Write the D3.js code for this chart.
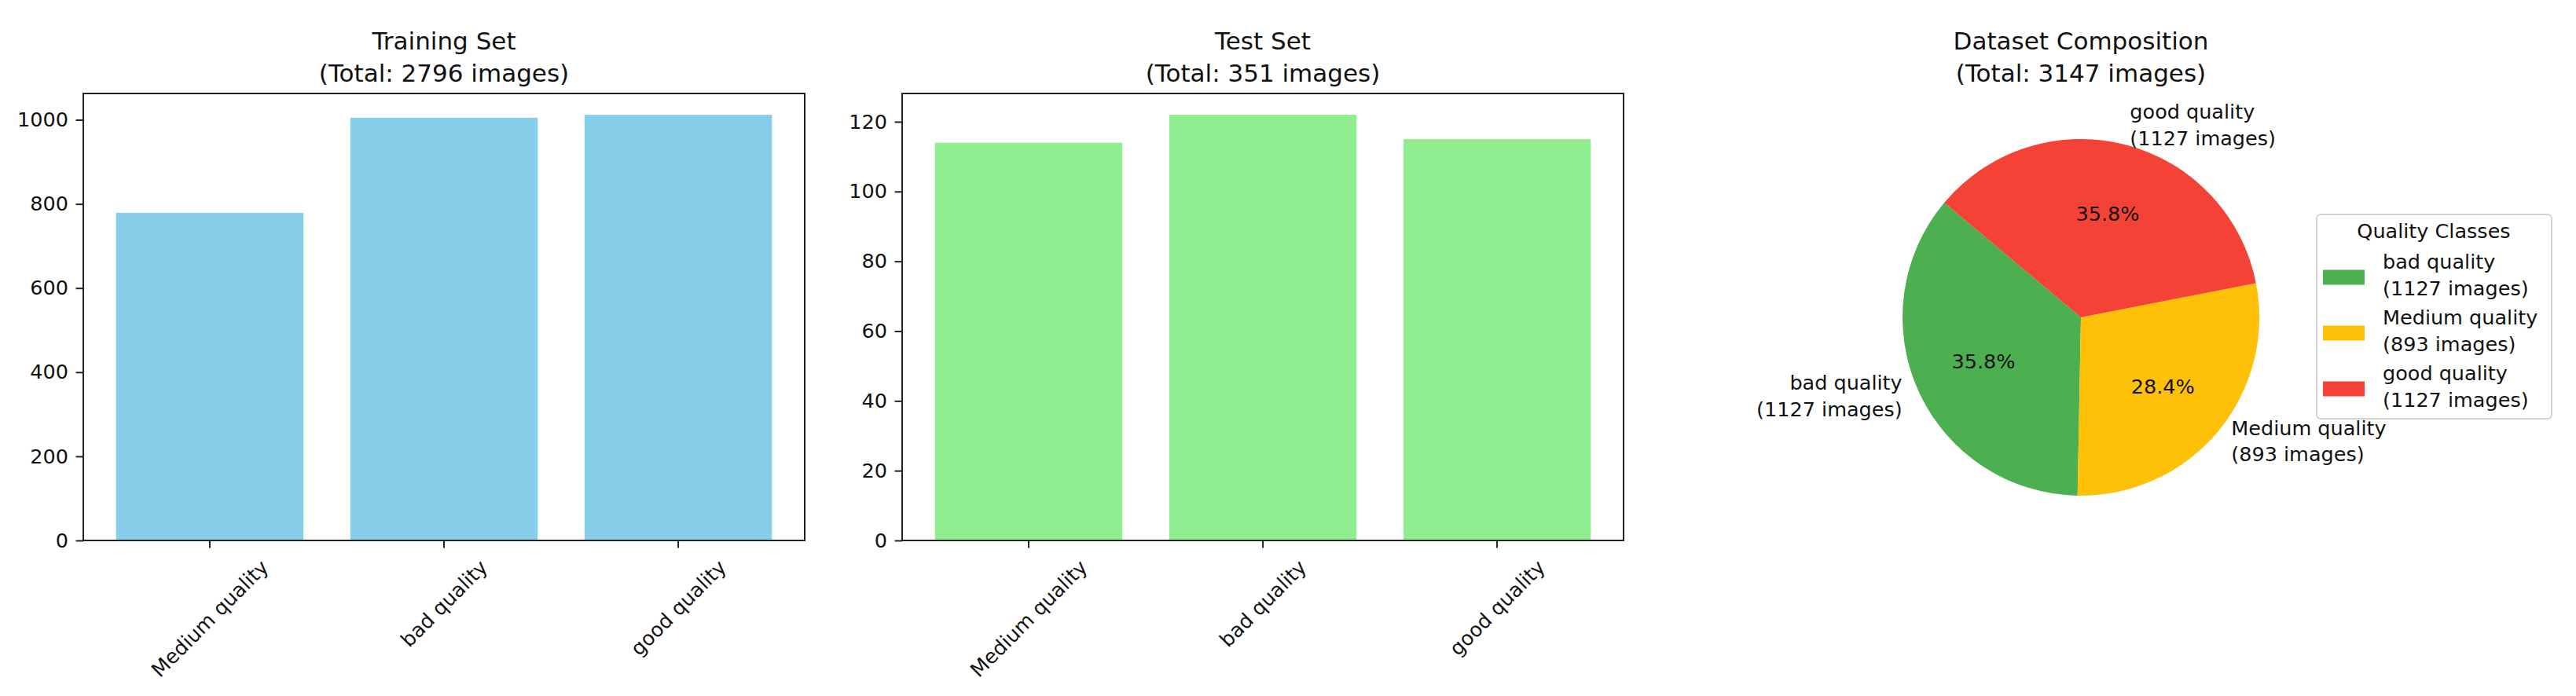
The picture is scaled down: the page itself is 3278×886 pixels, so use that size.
<!DOCTYPE html>
<html>
<head>
<meta charset="utf-8">
<script src="https://cdn.jsdelivr.net/npm/d3@7/dist/d3.min.js"></script>
<style>
  body { margin: 0; background: #fff; }
  text { font-family: "DejaVu Sans", sans-serif; fill: #111; }
</style>
</head>
<body>
<svg id="chart" width="3278" height="886"></svg>
<script>
// data
const categories = ["Medium quality", "bad quality", "good quality"];
const trainCounts = [779, 1005, 1012];
const testCounts = [114, 122, 115];
const trainTicks = [0, 200, 400, 600, 800, 1000];
const testTicks = [0, 20, 40, 60, 80, 100, 120];

const pieClasses = ["bad quality", "Medium quality", "good quality"];
const pieCounts = [1127, 893, 1127];
const pieColors = ["#4CAF50", "#FFC107", "#F44336"];

// layout
const fs = 25.5;        // normal text
const titleFs = 31;     // titles
const tickLen = 9.5, tickPad = 9.5;
const yTop = 119, yBottom = 688;

const svg = d3.select("#chart");
svg.append("rect").attr("width", 3278).attr("height", 886).attr("fill", "#fff");

function title(cx, lines) {
  const t = svg.append("text")
    .attr("text-anchor", "middle")
    .attr("font-size", titleFs);
  t.append("tspan").attr("x", cx).attr("y", 63).text(lines[0]);
  t.append("tspan").attr("x", cx).attr("y", 104).text(lines[1]);
}

function barPanel(x0, x1, counts, ticks, color, name) {
  const g = svg.append("g");

  const x = d3.scaleBand()
    .domain(categories)
    .range([x0, x1])
    .paddingInner(0.2)
    .paddingOuter(0.14);

  const y = d3.scaleLinear()
    .domain([0, d3.max(counts) * 1.05])
    .range([yBottom, yTop]);

  // bars
  g.selectAll(".bar")
    .data(counts)
    .enter().append("rect")
    .attr("x", (d, i) => x(categories[i]))
    .attr("width", x.bandwidth())
    .attr("y", d => y(d))
    .attr("height", d => yBottom - y(d))
    .attr("fill", color);

  // y axis
  const ya = g.append("g")
    .attr("transform", "translate(" + x0 + ",0)")
    .call(d3.axisLeft(y).tickValues(ticks).tickFormat(d3.format("d"))
      .tickSize(tickLen).tickPadding(tickPad));
  ya.select(".domain").remove();
  ya.selectAll("line").attr("stroke", "#222").attr("stroke-width", 2);
  ya.selectAll("text")
    .attr("font-size", fs)
    .attr("font-family", "DejaVu Sans")
    .attr("fill", "#111");
  ya.attr("font-family", null).attr("font-size", null);

  // x axis, ticks only
  const xa = g.append("g")
    .attr("transform", "translate(0," + yBottom + ")")
    .call(d3.axisBottom(x).tickSize(tickLen).tickFormat(""));
  xa.select(".domain").remove();
  xa.selectAll("line").attr("stroke", "#222").attr("stroke-width", 2);

  // rotated tick labels
  categories.forEach(c => {
    const lab = g.append("text")
      .attr("text-anchor", "middle")
      .attr("dominant-baseline", "central")
      .attr("font-size", fs)
      .text(c);
    const w = lab.node().getComputedTextLength();
    const h = fs * 1.164;
    const s = (w + h) / Math.SQRT2;
    const cx = x(c) + x.bandwidth() / 2;
    lab.attr("transform", "translate(" + cx + "," + (yBottom + tickLen + tickPad + s / 2) + ") rotate(-45)");
  });

  // frame
  g.append("rect")
    .attr("x", x0).attr("y", yTop)
    .attr("width", x1 - x0).attr("height", yBottom - yTop)
    .attr("fill", "none")
    .attr("stroke", "#222")
    .attr("stroke-width", 2);

  title((x0 + x1) / 2, [name, "(Total: " + d3.sum(counts) + " images)"]);
}

barPanel(106, 1024, trainCounts, trainTicks, "#87CEEB", "Training Set");
barPanel(1148, 2066, testCounts, testTicks, "#90EE90", "Test Set");

// pie
const cx = 2648, cy = 404, r = 227;
const total = d3.sum(pieCounts);
const a0 = -50 * Math.PI / 180;   // 140 deg counter-clockwise from east
const pie = d3.pie().sort(null).startAngle(a0).endAngle(a0 - 2 * Math.PI);
const arcs = pie(pieCounts);
const arc = d3.arc().innerRadius(0).outerRadius(r);
const labelArc = d3.arc().innerRadius(r * 1.1).outerRadius(r * 1.1);
const pctArc = d3.arc().innerRadius(r * 0.6).outerRadius(r * 0.6);

const pg = svg.append("g").attr("transform", "translate(" + cx + "," + cy + ")");
pg.selectAll(".slice")
  .data(arcs)
  .enter().append("path")
  .attr("d", arc)
  .attr("fill", (d, i) => pieColors[i]);

arcs.forEach((d, i) => {
  const [lx, ly] = labelArc.centroid(d);
  const t = pg.append("text")
    .attr("font-size", fs)
    .attr("text-anchor", lx > 0 ? "start" : "end");
  t.append("tspan").attr("x", lx).attr("y", ly - 11).text(pieClasses[i]);
  t.append("tspan").attr("x", lx).attr("y", ly + 22.5).text("(" + pieCounts[i] + " images)");

  const [px, py] = pctArc.centroid(d);
  pg.append("text")
    .attr("x", px).attr("y", py)
    .attr("text-anchor", "middle")
    .attr("dominant-baseline", "central")
    .attr("font-size", fs)
    .text(d3.format(".1f")(pieCounts[i] / total * 100) + "%");
});

title(cx, ["Dataset Composition", "(Total: " + total + " images)"]);

// legend
const lg = svg.append("g");
lg.append("rect")
  .attr("x", 2948).attr("y", 273)
  .attr("width", 299).attr("height", 260)
  .attr("rx", 5)
  .attr("fill", "#fff")
  .attr("stroke", "#d3d3d3")
  .attr("stroke-width", 2);
lg.append("text")
  .attr("x", 3097).attr("y", 303)
  .attr("text-anchor", "middle")
  .attr("font-size", fs)
  .text("Quality Classes");
pieClasses.forEach((c, i) => {
  const ec = 353 + i * 71;
  lg.append("rect")
    .attr("x", 2956).attr("y", ec - 9.5)
    .attr("width", 53).attr("height", 19)
    .attr("fill", pieColors[i]);
  const t = lg.append("text").attr("font-size", fs);
  t.append("tspan").attr("x", 3032).attr("y", ec - 11).text(c);
  t.append("tspan").attr("x", 3032).attr("y", ec + 22.5).text("(" + pieCounts[i] + " images)");
});
</script>
</body>
</html>
